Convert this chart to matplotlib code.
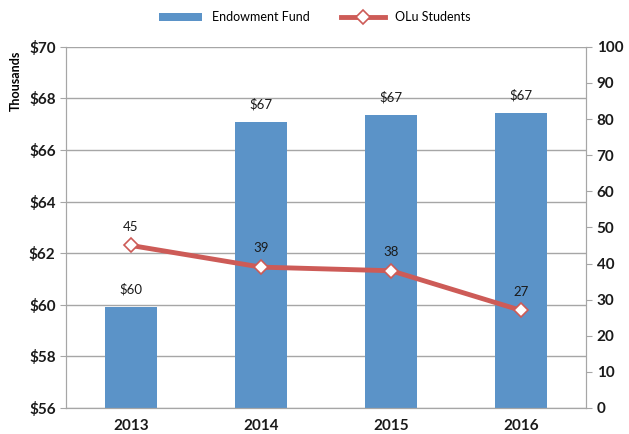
import matplotlib.pyplot as plt
from matplotlib.ticker import FuncFormatter

# ---------- Data ----------
years = ["2013", "2014", "2015", "2016"]
endowment = [59.9, 67.1, 67.35, 67.45]     # thousands of dollars
endow_labels = ["$60", "$67", "$67", "$67"]
students = [45, 39, 38, 27]

# ---------- Style ----------
BAR = "#5B93C8"
LINE = "#CD5B57"
GRID = "#A6A6A6"
TEXT = "#1A1A1A"
plt.rcParams["font.family"] = ["Lato", "DejaVu Sans"]

fig = plt.figure(figsize=(6.29, 4.34), dpi=100)
ax = fig.add_axes([0.105, 0.06, 0.827, 0.832])
ax2 = ax.twinx()

x = list(range(len(years)))

# bars
bars = ax.bar(x, endowment, width=0.4, color=BAR, zorder=2, label="Endowment Fund")
ax.set_ylim(56, 70)
ax.set_yticks(range(56, 71, 2))
ax.yaxis.set_major_formatter(FuncFormatter(lambda v, p: f"${v:.0f}"))
ax.set_xlim(-0.5, 3.5)
ax.set_xticks(x)
ax.set_xticklabels(years)
ax.grid(axis="y", color=GRID, lw=1, zorder=0)
ax.set_axisbelow(True)
ax.set_ylabel("Thousands", fontsize=9, fontweight="bold", labelpad=2)
ax.yaxis.set_label_coords(-0.085, 0.905)

for xi, v, lab in zip(x, endowment, endow_labels):
    ax.text(xi, v + 0.45, lab, ha="center", va="bottom", fontsize=9.5, color=TEXT)

# line
line, = ax2.plot(x, students, color=LINE, lw=3.5, marker="D", markersize=7,
                 markerfacecolor="white", markeredgecolor=LINE, markeredgewidth=1.2,
                 zorder=3, label="OLu Students")
ax2.set_ylim(0, 100)
ax2.set_yticks(range(0, 101, 10))
for xi, v in zip(x, students):
    ax2.text(xi, v + 3.5, str(v), ha="center", va="bottom", fontsize=9.5, color=TEXT)

# spines and ticks
for a in (ax, ax2):
    for s in a.spines.values():
        s.set_color(GRID)
    a.spines["top"].set_visible(False)
    a.tick_params(colors=GRID, labelcolor=TEXT, labelsize=11, length=4)
    for lab in a.get_yticklabels() + a.get_xticklabels():
        lab.set_fontweight("bold")
ax.tick_params(axis="x", length=0, pad=8)

# legend
fig.legend(handles=[bars, line], loc="upper center", bbox_to_anchor=(0.5, 1.0),
           ncol=2, frameon=False, fontsize=9, handlelength=3.5, columnspacing=2.5)

plt.savefig("out.png", dpi=100, facecolor="white")
